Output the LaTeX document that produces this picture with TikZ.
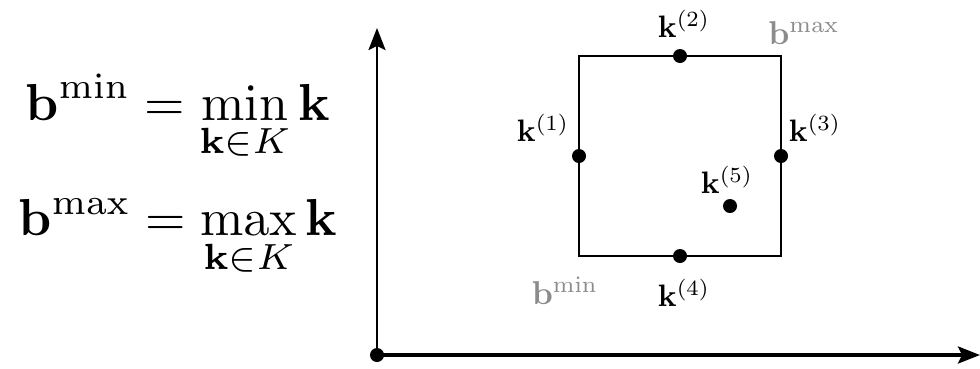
\documentclass[tikz,border=0pt]{standalone}
\usepackage{amsmath,amssymb}
\usepackage{xcolor}
\usepackage{tikz}
\usetikzlibrary{arrows.meta, positioning}
\tikzset{
  axis/.style  = {-{Stealth[length=22pt,width=17pt,inset=4pt]}, draw=black},
  pt/.style    = {circle, fill=black, inner sep=0pt, minimum size=14pt},
  lbl/.style   = {scale=3.1, inner sep=0.5pt},
  bnd/.style   = {scale=3.3, inner sep=0.5pt, text=black!45},
  eqn/.style   = {scale=5.2, inner sep=0pt}
}

\begin{document}
\begin{tikzpicture}[x=1pt, y=-1pt]
  \useasboundingbox (0,0) rectangle (980,368);
  % equations
  \node[eqn] (emin) at (178,118) {$\displaystyle \mathbf{b}^{\min}=\min_{\mathbf{k}\in K}\mathbf{k}$};
  \node[eqn] (emax) at (178,238) {$\displaystyle \mathbf{b}^{\max}=\max_{\mathbf{k}\in K}\mathbf{k}$};

  % axes
  \node[pt] (o) at (377,355) {};
  \coordinate (ytop) at (377,28);
  \coordinate (xend) at (980,355);
  \draw[axis, line width=2.4pt] (o.center) -- (ytop);
  \draw[axis, line width=3.4pt] (o.center) -- (xend);

  % box
  \coordinate (bmin) at (579,256);
  \coordinate (bmax) at (781,56);
  \draw[line width=2.6pt] (bmin) rectangle (bmax);

  % points
  \node[pt] (k1) at (579,156) {};
  \node[pt] (k2) at (680,56) {};
  \node[pt] (k3) at (781,156) {};
  \node[pt] (k4) at (680,256) {};
  \node[pt] (k5) at (730,206) {};

  \node[lbl] (l1) at (543,128) {$\mathbf{k}^{(1)}$};
  \node[lbl] (l2) at (684,24) {$\mathbf{k}^{(2)}$};
  \node[lbl] (l3) at (815,128) {$\mathbf{k}^{(3)}$};
  \node[lbl] (l4) at (684,293) {$\mathbf{k}^{(4)}$};
  \node[lbl] (l5) at (727,180) {$\mathbf{k}^{(5)}$};
  \node[bnd] (lmin) at (565,291) {$\mathbf{b}^{\min}$};
  \node[bnd] (lmax) at (804,33) {$\mathbf{b}^{\max}$};
\end{tikzpicture}
\end{document}
